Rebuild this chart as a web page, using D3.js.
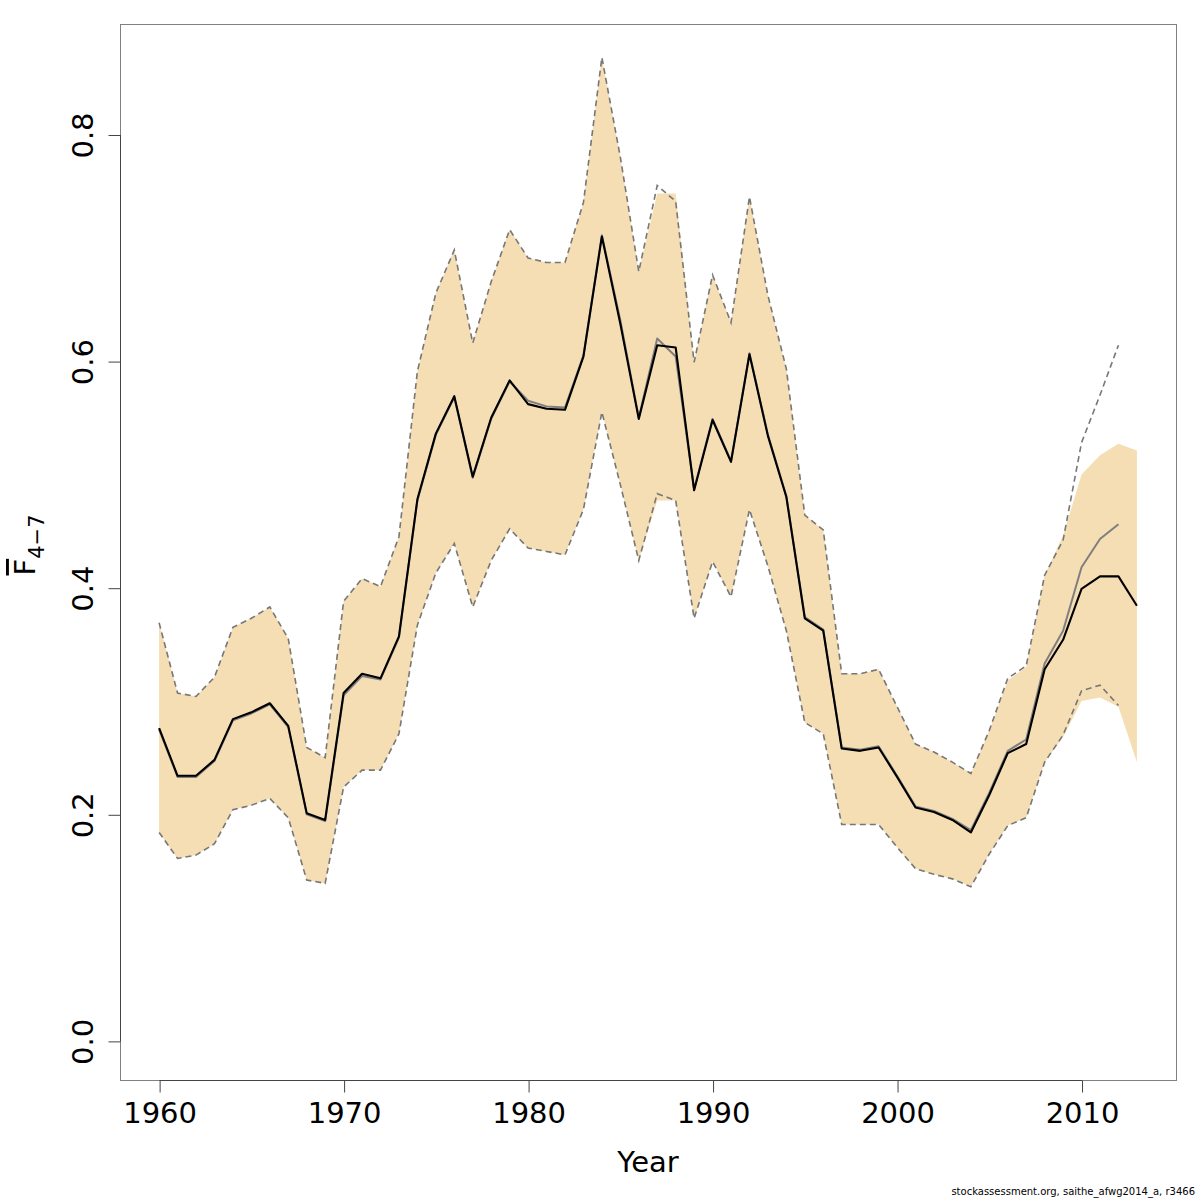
<!DOCTYPE html>
<html>
<head>
<meta charset="utf-8">
<script src="https://cdn.jsdelivr.net/npm/d3@7"></script>
<style>
    body { margin: 0; background: #fff; }
    text { font-family: "DejaVu Sans", sans-serif; }
</style>
</head>
<body>
<div id="chart"></div>
<script>
// current assessment, Fbar(4-7) with confidence band
var years = [1960, 1961, 1962, 1963, 1964, 1965, 1966, 1967, 1968, 1969,
             1970, 1971, 1972, 1973, 1974, 1975, 1976, 1977, 1978, 1979,
             1980, 1981, 1982, 1983, 1984, 1985, 1986, 1987, 1988, 1989,
             1990, 1991, 1992, 1993, 1994, 1995, 1996, 1997, 1998, 1999,
             2000, 2001, 2002, 2003, 2004, 2005, 2006, 2007, 2008, 2009,
             2010, 2011, 2012, 2013];
var fbar = [0.276, 0.234, 0.234, 0.248, 0.284, 0.290, 0.298, 0.278, 0.201, 0.195,
            0.307, 0.324, 0.320, 0.357, 0.478, 0.536, 0.569, 0.498, 0.550, 0.583,
            0.562, 0.558, 0.557, 0.604, 0.710, 0.633, 0.549, 0.614, 0.612, 0.486,
            0.548, 0.511, 0.606, 0.534, 0.480, 0.373, 0.362, 0.258, 0.256, 0.259,
            0.233, 0.206, 0.202, 0.195, 0.184, 0.217, 0.254, 0.262, 0.328, 0.354,
            0.399, 0.410, 0.410, 0.384];
var fbarLow = [0.184, 0.161, 0.164, 0.174, 0.204, 0.208, 0.214, 0.197, 0.142, 0.139,
               0.224, 0.239, 0.239, 0.271, 0.367, 0.413, 0.439, 0.383, 0.424, 0.452,
               0.435, 0.432, 0.429, 0.469, 0.555, 0.491, 0.424, 0.477, 0.477, 0.373,
               0.423, 0.392, 0.469, 0.419, 0.362, 0.281, 0.271, 0.191, 0.191, 0.191,
               0.171, 0.152, 0.147, 0.143, 0.136, 0.165, 0.190, 0.197, 0.246, 0.268,
               0.300, 0.303, 0.295, 0.246];
var fbarHigh = [0.369, 0.307, 0.304, 0.321, 0.365, 0.373, 0.383, 0.355, 0.259, 0.250,
                0.388, 0.408, 0.401, 0.445, 0.591, 0.660, 0.698, 0.616, 0.670, 0.716,
                0.691, 0.687, 0.687, 0.740, 0.868, 0.780, 0.679, 0.748, 0.748, 0.599,
                0.676, 0.634, 0.745, 0.658, 0.593, 0.464, 0.451, 0.324, 0.324, 0.328,
                0.295, 0.262, 0.255, 0.246, 0.236, 0.274, 0.318, 0.330, 0.411, 0.446,
                0.500, 0.517, 0.527, 0.521];

// previous assessment (ends one year earlier)
var prevYears = [1960, 1961, 1962, 1963, 1964, 1965, 1966, 1967, 1968, 1969,
                 1970, 1971, 1972, 1973, 1974, 1975, 1976, 1977, 1978, 1979,
                 1980, 1981, 1982, 1983, 1984, 1985, 1986, 1987, 1988, 1989,
                 1990, 1991, 1992, 1993, 1994, 1995, 1996, 1997, 1998, 1999,
                 2000, 2001, 2002, 2003, 2004, 2005, 2006, 2007, 2008, 2009,
                 2010, 2011, 2012];
var prevFbar = [0.275, 0.233, 0.233, 0.247, 0.283, 0.289, 0.297, 0.277, 0.200, 0.194,
                0.305, 0.322, 0.319, 0.356, 0.477, 0.535, 0.568, 0.497, 0.549, 0.582,
                0.565, 0.560, 0.559, 0.605, 0.711, 0.636, 0.550, 0.620, 0.604, 0.487,
                0.549, 0.512, 0.607, 0.535, 0.481, 0.374, 0.363, 0.259, 0.257, 0.260,
                0.234, 0.207, 0.203, 0.196, 0.186, 0.219, 0.256, 0.266, 0.333, 0.362,
                0.418, 0.443, 0.456];
var prevLow = [0.184, 0.161, 0.164, 0.174, 0.204, 0.208, 0.214, 0.197, 0.142, 0.139,
               0.224, 0.239, 0.239, 0.271, 0.367, 0.413, 0.439, 0.383, 0.424, 0.452,
               0.435, 0.432, 0.429, 0.469, 0.555, 0.491, 0.424, 0.483, 0.477, 0.373,
               0.423, 0.392, 0.469, 0.419, 0.362, 0.281, 0.271, 0.191, 0.191, 0.191,
               0.171, 0.152, 0.147, 0.143, 0.136, 0.165, 0.190, 0.197, 0.246, 0.270,
               0.309, 0.314, 0.296];
var prevHigh = [0.369, 0.307, 0.304, 0.321, 0.365, 0.373, 0.383, 0.355, 0.259, 0.250,
                0.388, 0.408, 0.401, 0.445, 0.591, 0.660, 0.698, 0.616, 0.670, 0.716,
                0.691, 0.687, 0.687, 0.740, 0.868, 0.780, 0.679, 0.755, 0.741, 0.599,
                0.676, 0.634, 0.745, 0.658, 0.593, 0.464, 0.451, 0.324, 0.324, 0.328,
                0.295, 0.262, 0.255, 0.246, 0.236, 0.274, 0.320, 0.331, 0.411, 0.442,
                0.528, 0.570, 0.614];

var xTicks = [1960, 1970, 1980, 1990, 2000, 2010];
var yTicks = [0.0, 0.2, 0.4, 0.6, 0.8];
var yTickLabels = ["0.0", "0.2", "0.4", "0.6", "0.8"];
var yLim = [0, 0.863];

var width = 1200;
var height = 1200;
var plotLeft = 120, plotRight = 1176, plotTop = 24, plotBottom = 1080;

var svg = d3.select("#chart")
    .append("svg")
    .attr("width", width)
    .attr("height", height);

// R style: pad the data range by 4% on each side
var xr = d3.extent(years);
var xPad = (xr[1] - xr[0]) * 0.04;
var x = d3.scaleLinear()
    .domain([xr[0] - xPad, xr[1] + xPad])
    .range([plotLeft, plotRight]);

var yPad = (yLim[1] - yLim[0]) * 0.04;
var y = d3.scaleLinear()
    .domain([yLim[0] - yPad, yLim[1] + yPad])
    .range([plotBottom, plotTop]);

var current = years.map(function(yr, i) {
    return { year: yr, f: fbar[i], lo: fbarLow[i], hi: fbarHigh[i] };
});
var previous = prevYears.map(function(yr, i) {
    return { year: yr, f: prevFbar[i], lo: prevLow[i], hi: prevHigh[i] };
});

var band = d3.area()
    .x(function(d) { return x(d.year); })
    .y0(function(d) { return y(d.lo); })
    .y1(function(d) { return y(d.hi); });

var line = function(key) {
    return d3.line()
        .x(function(d) { return x(d.year); })
        .y(function(d) { return y(d[key]); });
};

svg.append("path")
    .datum(current)
    .attr("d", band)
    .attr("fill", "#f5deb3")
    .attr("stroke", "none");

["lo", "hi"].forEach(function(key) {
    svg.append("path")
        .datum(previous)
        .attr("d", line(key))
        .attr("fill", "none")
        .attr("stroke", "#777")
        .attr("stroke-width", 1.6)
        .attr("stroke-dasharray", "6,4");
});

svg.append("path")
    .datum(previous)
    .attr("d", line("f"))
    .attr("fill", "none")
    .attr("stroke", "#7f7f7f")
    .attr("stroke-width", 2)
    .attr("stroke-linejoin", "round");

svg.append("path")
    .datum(current)
    .attr("d", line("f"))
    .attr("fill", "none")
    .attr("stroke", "#000")
    .attr("stroke-width", 2.1)
    .attr("stroke-linejoin", "round");

// box round the plot region
svg.append("rect")
    .attr("x", plotLeft + 0.5)
    .attr("y", plotTop + 0.5)
    .attr("width", plotRight - plotLeft)
    .attr("height", plotBottom - plotTop)
    .attr("fill", "none")
    .attr("stroke", "#808080")
    .attr("stroke-width", 1);

// x axis
var xAxis = svg.append("g")
    .attr("transform", "translate(0.5," + (plotBottom + 0.5) + ")")
    .call(d3.axisBottom(x)
        .tickValues(xTicks)
        .tickFormat(d3.format("d"))
        .tickSize(12)
        .tickPadding(10));
xAxis.select(".domain").remove();
xAxis.append("line")
    .attr("x1", x(xTicks[0]))
    .attr("x2", x(xTicks[xTicks.length - 1]))
    .attr("stroke", "#444");
xAxis.selectAll(".tick line").attr("stroke", "#444");
xAxis.selectAll("text")
    .attr("fill", "#000")
    .style("font-size", "29px");

// y axis, labels turned like R's las = 0
var yAxis = svg.append("g")
    .attr("transform", "translate(" + (plotLeft + 0.5) + ",0.5)")
    .call(d3.axisLeft(y)
        .tickValues(yTicks)
        .tickFormat(function(d, i) { return yTickLabels[i]; })
        .tickSize(12));
yAxis.select(".domain").remove();
yAxis.append("line")
    .attr("y1", y(yTicks[0]))
    .attr("y2", y(yTicks[yTicks.length - 1]))
    .attr("stroke", "#444");
yAxis.selectAll(".tick line").attr("stroke", "#444");
yAxis.selectAll("text")
    .attr("x", 0)
    .attr("dy", 0)
    .attr("text-anchor", "middle")
    .attr("transform", "translate(-28,0) rotate(-90)")
    .attr("fill", "#000")
    .style("font-size", "29px");

// axis titles
svg.append("text")
    .attr("x", (plotLeft + plotRight) / 2)
    .attr("y", 1172)
    .attr("text-anchor", "middle")
    .style("font-size", "29px")
    .text("Year");

var ylab = svg.append("text")
    .attr("transform", "translate(35,545) rotate(-90)")
    .attr("text-anchor", "middle")
    .style("font-size", "29px");
ylab.append("tspan")
    .style("text-decoration", "overline")
    .text("F");
ylab.append("tspan")
    .attr("dy", 9)
    .style("font-size", "21px")
    .text("4\u22127");

svg.append("text")
    .attr("x", 1195)
    .attr("y", 1195)
    .attr("text-anchor", "end")
    .style("font-size", "10px")
    .text("stockassessment.org, saithe_afwg2014_a, r3466");
</script>
</body>
</html>
